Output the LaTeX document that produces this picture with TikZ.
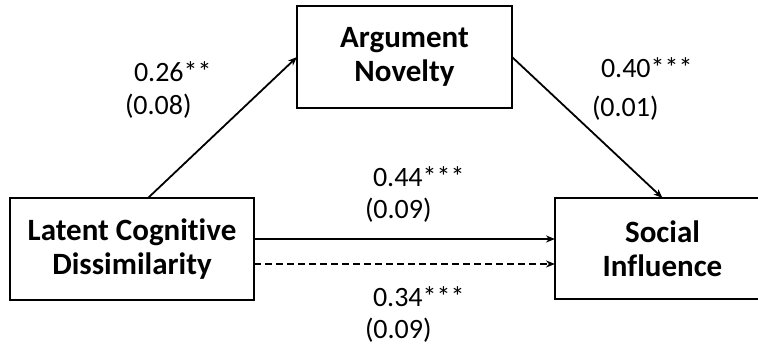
\documentclass[tikz,border=0pt]{standalone}
\usepackage{fontspec}
\setmainfont{Carlito}[Ligatures={NoCommon}]
\usepackage{tikz}
\usetikzlibrary{calc,arrows.meta}

\begin{document}
\begin{tikzpicture}[x=1pt,y=1pt,inner sep=0pt,outer sep=0pt,
    varbox/.style={draw, line width=1.4pt, align=center,
        font=\fontsize{31}{34}\selectfont\bfseries},
    coef/.style={anchor=base west, font=\fontsize{28}{30}\selectfont},
    path/.style={line width=1.8pt, -{Stealth[length=9pt,width=7pt]}}]
    \useasboundingbox (0,0) rectangle (758,353);

    % variables
    \node[varbox, minimum width=244pt, minimum height=102pt] (latent) at (132, 104)
    {Latent Cognitive\\Dissimilarity};
    \node[varbox, minimum width=215pt, minimum height=102pt] (novelty) at (404.5, 296)
    {Argument\\Novelty};
    \node[varbox, minimum width=215pt, minimum height=101pt] (social) at (662.5, 104.5)
    {Social\\Influence};

    % paths
    \draw[path] ([xshift=16pt]latent.north) -- (novelty.west);
    \draw[path] (novelty.east) -- (social.north);
    \draw[path] ([yshift=10pt]latent.east) -- ([yshift=10pt]latent.east -| social.west);
    \draw[path, dash pattern=on 7pt off 4pt] ([yshift=-15pt]latent.east)
        -- ([yshift=-15pt]latent.east -| social.west);

    % coefficients
    \node[coef] (a_est) at (134, 271) {0.26**};
    \node[coef] (a_se) at (125, 238) {(0.08)};
    \node[coef] (b_est) at (601, 275) {0.40***};
    \node[coef] (b_se) at (592, 236) {(0.01)};
    \node[coef] (c_est) at (373, 166) {0.44***};
    \node[coef] (c_se) at (365, 134) {(0.09)};
    \node[coef] (d_est) at (373, 46) {0.34***};
    \node[coef] (d_se) at (365, 14) {(0.09)};
\end{tikzpicture}
\end{document}
